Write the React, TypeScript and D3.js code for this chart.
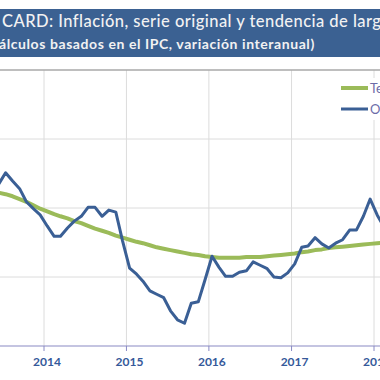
import React from "react";
import * as d3 from "d3";

// Monthly observations (YYYY-MM), Jun 2013 .. Feb 2018
const months: string[] = [
  "2013-06","2013-07","2013-08","2013-09","2013-10","2013-11","2013-12",
  "2014-01","2014-02","2014-03","2014-04","2014-05","2014-06","2014-07","2014-08","2014-09","2014-10","2014-11","2014-12",
  "2015-01","2015-02","2015-03","2015-04","2015-05","2015-06","2015-07","2015-08","2015-09","2015-10","2015-11","2015-12",
  "2016-01","2016-02","2016-03","2016-04","2016-05","2016-06","2016-07","2016-08","2016-09","2016-10","2016-11","2016-12",
  "2017-01","2017-02","2017-03","2017-04","2017-05","2017-06","2017-07","2017-08","2017-09","2017-10","2017-11","2017-12",
  "2018-01","2018-02",
];

// Serie original (variación interanual, %)
const original: number[] = [
  1.35, 1.51, 1.39, 1.28, 1.09, 0.99, 0.90,
  0.74, 0.59, 0.59, 0.71, 0.81, 0.88, 1.01, 1.01, 0.88, 0.97, 0.94, 0.52,
  0.13, 0.04, -0.06, -0.20, -0.25, -0.30, -0.49, -0.62, -0.67, -0.38, -0.36, -0.04,
  0.30, 0.14, 0.01, 0.01, 0.07, 0.09, 0.22, 0.17, 0.12, 0.00, -0.01, 0.06,
  0.19, 0.43, 0.45, 0.57, 0.48, 0.42, 0.49, 0.54, 0.68, 0.68, 0.88, 1.13,
  0.90, 0.72,
];

// Tendencia de largo plazo
const tendencia: number[] = [
  1.22, 1.20, 1.17, 1.13, 1.09, 1.04, 0.99,
  0.95, 0.91, 0.88, 0.85, 0.81, 0.78, 0.74, 0.70, 0.67, 0.64, 0.60, 0.57,
  0.54, 0.51, 0.49, 0.46, 0.43, 0.41, 0.39, 0.37, 0.35, 0.33, 0.32, 0.30,
  0.29, 0.28, 0.28, 0.28, 0.28, 0.29, 0.29, 0.29, 0.30, 0.31, 0.32, 0.33,
  0.34, 0.36, 0.37, 0.39, 0.40, 0.42, 0.43, 0.44, 0.45, 0.46, 0.47, 0.48,
  0.49, 0.50,
];

const years: number[] = [2014, 2015, 2016, 2017, 2018];
const yTicks: number[] = [-1, 0, 1, 2, 3];

const title = "CARD: Inflación, serie original y tendencia de largo plazo";
const subtitle = "(Cálculos basados en el IPC, variación interanual)";
const legendLabels: string[] = ["Tendencia", "Original"];

const W = 380;
const H = 380;

export default function App() {
  const x = d3
    .scaleTime()
    .domain([new Date(2014, 0, 1), new Date(2018, 0, 1)])
    .range([44, 374]);
  const y = d3.scaleLinear().domain([-1, 3]).range([346, 70]);

  const dates = months.map((m) => {
    const [yy, mm] = m.split("-").map(Number);
    return new Date(yy, mm - 1, 15);
  });

  const line = d3
    .line<number>()
    .x((_, i) => x(dates[i]))
    .y((d) => y(d));

  const font = "Lato, 'Open Sans', sans-serif";

  return (
    <svg
      width={W}
      height={H}
      style={{ position: "absolute", left: 0, top: 0, background: "#fff" }}
    >
      {/* header */}
      <rect x={0} y={9} width={W} height={48} fill="#3B6192" />
      <text x={2} y={27} fill="#F2F2F2" fontFamily={font} fontSize={16.5} fontWeight={500} letterSpacing={0.45}>
        {title}
      </text>
      <text x={-15} y={49} fill="#F2F2F2" fontFamily={font} fontSize={14} fontWeight={700} letterSpacing={0.58}>
        {subtitle}
      </text>

      {/* grid */}
      {yTicks.slice(1, -1).map((t) => (
        <line key={"h" + t} x1={0} x2={W} y1={y(t)} y2={y(t)} stroke="#DCDCDC" strokeWidth={1} />
      ))}
      {years.map((yr) => (
        <line
          key={"v" + yr}
          x1={x(new Date(yr, 0, 1))}
          x2={x(new Date(yr, 0, 1))}
          y1={y(3)}
          y2={y(-1)}
          stroke="#DCDCDC"
          strokeWidth={1}
        />
      ))}
      <line x1={0} x2={W} y1={y(3)} y2={y(3)} stroke="#A8A8A8" strokeWidth={1.5} />

      {/* axis */}
      <line x1={0} x2={W} y1={y(-1)} y2={y(-1)} stroke="#8A8AC4" strokeWidth={1.2} />
      {years.map((yr) => (
        <g key={"t" + yr}>
          <line
            x1={x(new Date(yr, 0, 1))}
            x2={x(new Date(yr, 0, 1))}
            y1={y(-1)}
            y2={y(-1) + 5}
            stroke="#8A8AC4"
            strokeWidth={1}
          />
          <text
            x={x(new Date(yr, 0, 1)) + 3}
            y={366}
            textAnchor="middle"
            fill="#35599A"
            fontFamily={font}
            fontSize={12}
            fontWeight={700}
          >
            {yr}
          </text>
        </g>
      ))}

      {/* series */}
      <path d={line(tendencia) || ""} fill="none" stroke="#9BBB59" strokeWidth={4} strokeLinejoin="round" />
      <path d={line(original) || ""} fill="none" stroke="#3A5F95" strokeWidth={3} strokeLinejoin="round" />

      {/* legend */}
      <rect x={336} y={78} width={60} height={42} fill="#fff" />
      <line x1={341} x2={368} y1={88} y2={88} stroke="#9BBB59" strokeWidth={4} />
      <line x1={341} x2={368} y1={109} y2={109} stroke="#3A5F95" strokeWidth={3} />
      <text x={370} y={93} fill="#6C6CA8" fontFamily={font} fontSize={13}>
        {legendLabels[0]}
      </text>
      <text x={370} y={114} fill="#6C6CA8" fontFamily={font} fontSize={13}>
        {legendLabels[1]}
      </text>
    </svg>
  );
}
